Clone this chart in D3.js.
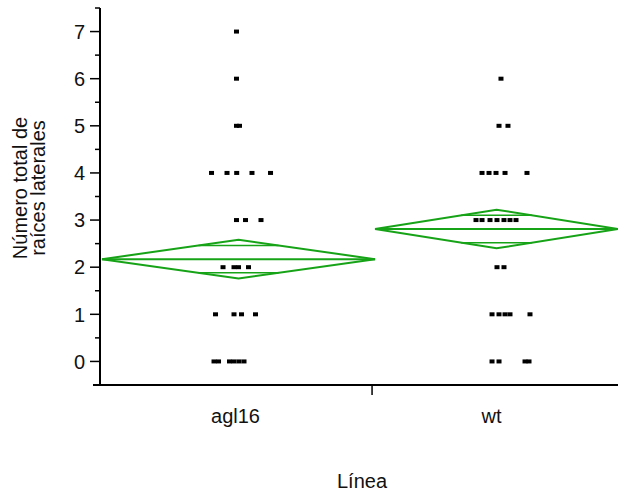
<!DOCTYPE html>
<html>
<head>
<meta charset="utf-8">
<script src="https://cdn.jsdelivr.net/npm/d3@7/dist/d3.min.js"></script>
<style>
  html, body { margin: 0; padding: 0; background: #fff; }
  svg { display: block; font-family: "Liberation Sans", Arial, sans-serif; }
</style>
</head>
<body>
<svg id="chart" width="618" height="495"></svg>
<script>
// ---- data ----
const categories = ["agl16", "wt"];
// share of the x axis taken by each group (JMP widths proportional to n)
const groupShare = [0.531, 0.469];
// group means and 95% CI half-widths (means diamonds)
const groupMeans = [2.17, 2.81];
const groupCI = [0.41, 0.41];
// raw observations: values and jittered horizontal positions (axis units 0..1)
const agl16Values = [7, 6, 5, 5, 4, 4, 4, 4, 4, 3, 3, 3, 2, 2, 2, 2, 1, 1, 1, 1, 0, 0, 0, 0, 0, 0];
const agl16Jitter = [0.2635, 0.2635, 0.2635, 0.2693, 0.2153, 0.2452, 0.2639, 0.2934, 0.3292,
                     0.2635, 0.2809, 0.3108, 0.2375, 0.2587, 0.2674, 0.2867,
                     0.2230, 0.2587, 0.2732, 0.3002,
                     0.2201, 0.2288, 0.2500, 0.2587, 0.2683, 0.2780];
const wtValues = [6, 5, 5, 4, 4, 4, 4, 4, 3, 3, 3, 3, 3, 3, 3, 2, 2, 1, 1, 1, 1, 1, 0, 0, 0, 0];
const wtJitter = [0.7741, 0.7703, 0.7876, 0.7375, 0.7510, 0.7645, 0.7819, 0.8243,
                  0.7259, 0.7375, 0.7529, 0.7664, 0.7799, 0.7915, 0.8031,
                  0.7664, 0.7799,
                  0.7568, 0.7703, 0.7819, 0.7915, 0.8301,
                  0.7568, 0.7703, 0.8205, 0.8282];
const yTicks = [0, 1, 2, 3, 4, 5, 6, 7];
const yMinorTicks = [-0.5, 0.5, 1.5, 2.5, 3.5, 4.5, 5.5, 6.5, 7.5];
const yTitle = ["Número total de", "raíces laterales"];
const xTitle = "Línea";

// ---- layout ----
const svg = d3.select("#chart");
const mLeft = 100, mRight = 618, mTop = 8, mBottom = 385;
const x = d3.scaleLinear().domain([0, 1]).range([mLeft, mRight]);
const y = d3.scaleLinear().domain([-0.5, 7.5]).range([mBottom, mTop]);
const green = "#17a317";
const fontSize = 20;

// group boundaries
const bounds = [0];
groupShare.forEach((s, i) => bounds.push(bounds[i] + s));

// ---- means diamonds ----
const g = svg.append("g");
categories.forEach((c, i) => {
  const x0 = x(bounds[i]) + (i === 0 ? 2 : 0), x1 = x(bounds[i + 1]);
  const xc = (x0 + x1) / 2, hw = (x1 - x0) / 2;
  const m = groupMeans[i], ci = groupCI[i];
  const pts = [[x0, y(m)], [xc, y(m + ci)], [x1, y(m)], [xc, y(m - ci)]];
  g.append("path")
    .attr("d", d3.line()(pts) + "Z")
    .attr("fill", "none").attr("stroke", green).attr("stroke-width", 2)
    .attr("stroke-linejoin", "miter");
  g.append("line")
    .attr("x1", x0).attr("x2", x1).attr("y1", y(m)).attr("y2", y(m))
    .attr("stroke", green).attr("stroke-width", 2);
  // overlap marks
  const off = ci / Math.SQRT2;
  const w = hw * (1 - off / ci);
  [m + off, m - off].forEach(v => {
    g.append("line")
      .attr("x1", xc - w).attr("x2", xc + w).attr("y1", y(v)).attr("y2", y(v))
      .attr("stroke", green).attr("stroke-width", 1.5);
  });
});

// ---- points ----
const pointsData = [];
agl16Values.forEach((v, i) => pointsData.push({ v, j: agl16Jitter[i] }));
wtValues.forEach((v, i) => pointsData.push({ v, j: wtJitter[i] }));
svg.append("g").selectAll("rect").data(pointsData).join("rect")
  .attr("x", d => x(d.j) - 2.5)
  .attr("y", d => y(d.v) - 2)
  .attr("width", 5).attr("height", 4)
  .attr("fill", "#000");

// ---- y axis ----
const yAxis = svg.append("g").attr("transform", `translate(${mLeft},0)`);
yAxis.append("line").attr("x1", 0).attr("x2", 0).attr("y1", mTop).attr("y2", mBottom)
  .attr("stroke", "#000").attr("stroke-width", 2);
yAxis.selectAll(".major").data(yTicks).join("line")
  .attr("x1", -10).attr("x2", 0).attr("y1", d => y(d)).attr("y2", d => y(d))
  .attr("stroke", "#000").attr("stroke-width", 1.5);
yAxis.selectAll(".minor").data(yMinorTicks).join("line")
  .attr("x1", -5).attr("x2", 0).attr("y1", d => y(d)).attr("y2", d => y(d))
  .attr("stroke", "#000").attr("stroke-width", 1.5);
yAxis.selectAll("text").data(yTicks).join("text")
  .attr("x", -15).attr("y", d => y(d)).attr("dy", "0.36em")
  .attr("text-anchor", "end").attr("font-size", fontSize).attr("fill", "#111")
  .text(d => d);

// ---- x axis ----
const xAxis = svg.append("g").attr("transform", `translate(0,${mBottom})`);
xAxis.append("line").attr("x1", mLeft - 7).attr("x2", mRight).attr("y1", 0).attr("y2", 0)
  .attr("stroke", "#000").attr("stroke-width", 2);
xAxis.selectAll(".sep").data(bounds.slice(1, -1)).join("line")
  .attr("x1", d => x(d) - 3).attr("x2", d => x(d) - 3).attr("y1", 0).attr("y2", 10)
  .attr("stroke", "#000").attr("stroke-width", 1.5);
xAxis.selectAll("text").data(categories).join("text")
  .attr("x", (d, i) => x((bounds[i] + bounds[i + 1]) / 2) - (i === 0 ? 2 : 5))
  .attr("y", 38)
  .attr("text-anchor", "middle").attr("font-size", fontSize).attr("fill", "#111")
  .text(d => d);

// ---- titles ----
svg.append("text")
  .attr("x", 362).attr("y", 488)
  .attr("text-anchor", "middle").attr("font-size", fontSize).attr("fill", "#111")
  .text(xTitle);
yTitle.forEach((t, i) => {
  svg.append("text")
    .attr("transform", `translate(${27 + i * 18},${188}) rotate(-90)`)
    .attr("text-anchor", "middle").attr("font-size", fontSize).attr("fill", "#111")
    .text(t);
});
</script>
</body>
</html>
